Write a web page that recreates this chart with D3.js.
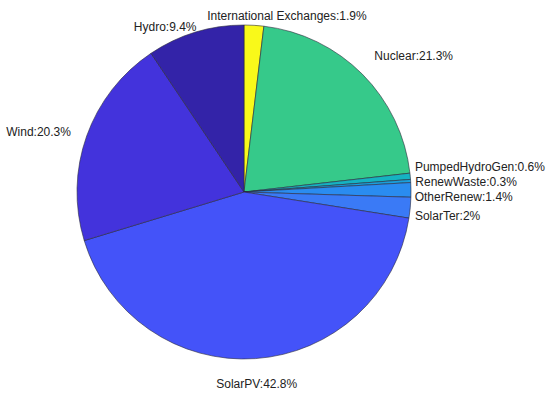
<!DOCTYPE html>
<html>
<head>
<meta charset="utf-8">
<script src="https://cdn.jsdelivr.net/npm/d3@7"></script>
<style>
  body { margin: 0; background: #fff; }
  text { font-family: "Liberation Sans", Arial, sans-serif; font-size: 12px; fill: #222; }
</style>
</head>
<body>
<svg id="chart"></svg>
<script>
// slice order, clockwise from 12 o'clock
var sources = ["International Exchanges", "Nuclear", "PumpedHydroGen", "RenewWaste",
               "OtherRenew", "SolarTer", "SolarPV", "Wind", "Hydro"];
var shares = [1.9, 21.3, 0.6, 0.3, 1.4, 2, 42.8, 20.3, 9.4];
var sliceColors = ["#f9f91a", "#36c98a", "#16b2c2", "#1aa0dc", "#2a8cf0",
                   "#3a7af6", "#4453f9", "#4333dc", "#3323a8"];

// hand nudges for the labels (px), same order as above
var labelShift = [[32, 7], [0, -7], [-12, -8], [-12, 2], [-13, 7], [-12, 7], [0, 9], [0, 2], [6, 11]];

var width = 550, height = 399;
var cx = 244, cy = 192, radius = 167;

var svg = d3.select("#chart")
    .attr("width", width)
    .attr("height", height);

var g = svg.append("g")
    .attr("transform", "translate(" + cx + "," + cy + ")");

var data = sources.map(function(s, i) {
    return { name: s, value: shares[i], color: sliceColors[i], shift: labelShift[i] };
});

var pie = d3.pie()
    .sort(null)
    .value(function(d) { return d.value; });

var arc = d3.arc()
    .innerRadius(0)
    .outerRadius(radius);

var arcs = pie(data);

g.selectAll("path.slice")
    .data(arcs)
    .enter()
    .append("path")
    .attr("class", "slice")
    .attr("d", arc)
    .attr("fill", function(d) { return d.data.color; })
    .attr("stroke", "#2a2a3a")
    .attr("stroke-width", 0.6)
    .attr("stroke-linejoin", "round");

// labels sit at 1.1 x radius, anchored away from the pie
g.selectAll("text.label")
    .data(arcs)
    .enter()
    .append("text")
    .attr("class", "label")
    .attr("x", function(d) {
        var a = (d.startAngle + d.endAngle) / 2;
        return Math.sin(a) * radius * 1.1 + d.data.shift[0];
    })
    .attr("y", function(d) {
        var a = (d.startAngle + d.endAngle) / 2;
        return -Math.cos(a) * radius * 1.1 + d.data.shift[1];
    })
    .attr("dominant-baseline", "central")
    .attr("text-anchor", function(d) {
        var s = Math.sin((d.startAngle + d.endAngle) / 2);
        if (Math.abs(s) < 0.2) return "middle";
        return s > 0 ? "start" : "end";
    })
    .text(function(d) { return d.data.name + ":" + d.data.value + "%"; });
</script>
</body>
</html>
